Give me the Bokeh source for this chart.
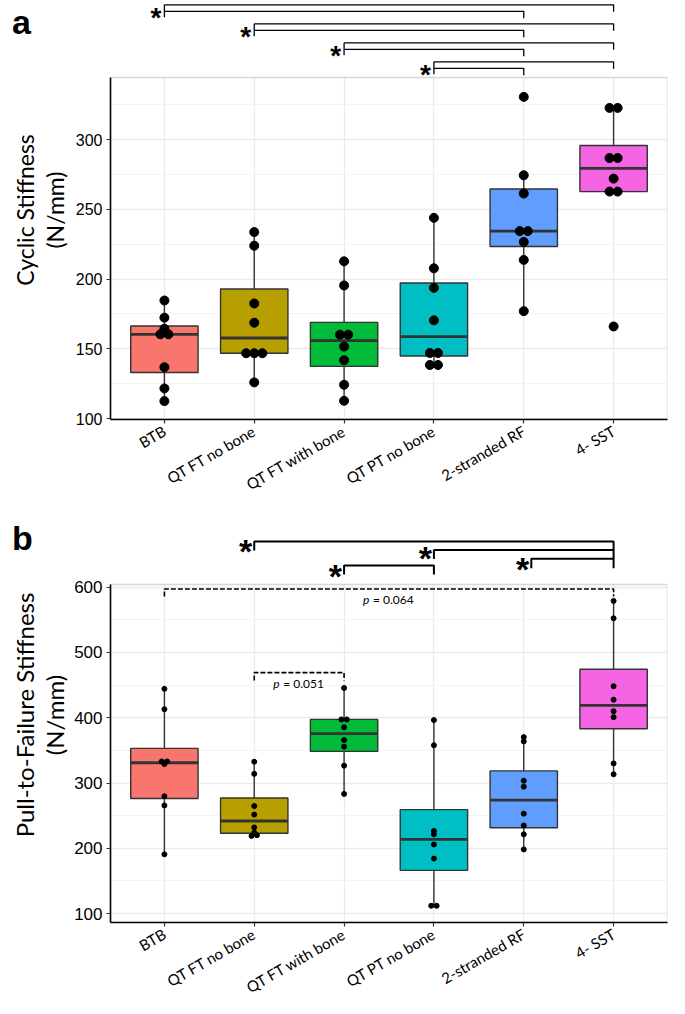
import math
import numpy as np
from bokeh.plotting import figure
from bokeh.layouts import column, row
from bokeh.models import Range1d, FixedTicker, ColumnDataSource, BoxAnnotation, Div
from bokeh.core.properties import value
from bokeh.embed import file_html
from bokeh.resources import INLINE

# ---------------- data ----------------
categories = ["BTB", "QT FT no bone", "QT FT with bone", "QT PT no bone", "2-stranded RF", "4- SST"]
box_colors = ["#F8766D", "#B79F00", "#00BA38", "#00BFC4", "#619CFF", "#F564E3"]

# panel a: cyclic stiffness (N/mm)
cyclic_btb = [184.6, 172.3, 164.4, 160.4, 160.4, 136.8, 121.6, 112.5]
cyclic_qtft_nobone = [233.7, 223.9, 182.5, 168.7, 146.8, 146.8, 146.8, 125.9]
cyclic_qtft_bone = [212.7, 195.4, 160.1, 160.1, 151.6, 141.8, 124.2, 112.7]
cyclic_qtpt_nobone = [243.9, 207.7, 193.7, 170.4, 147.0, 147.0, 138.4, 138.4]
cyclic_rf = [330.6, 274.4, 261.3, 234.4, 234.4, 226.6, 213.7, 177.0]
cyclic_sst = [322.7, 322.7, 286.8, 286.8, 272.0, 262.7, 262.7, 166.0]

# panel b: pull-to-failure stiffness (N/mm)
ptf_btb = [444.2, 413.0, 333.0, 333.0, 329.0, 279.8, 265.7, 190.8]
ptf_qtft_nobone = [332.6, 314.0, 264.7, 251.6, 232.0, 224.0, 220.0, 219.0]
ptf_qtft_bone = [445.6, 397.4, 397.4, 385.4, 365.8, 355.7, 326.6, 283.3]
ptf_qtpt_nobone = [396.4, 357.8, 226.5, 221.4, 205.9, 184.3, 112.0, 112.0]
ptf_rf = [370.3, 363.8, 303.5, 294.4, 253.1, 235.0, 221.4, 198.3]
ptf_sst = [578.9, 552.3, 448.3, 427.6, 410.0, 400.9, 330.0, 313.4]

cyclic_ticks = [100, 150, 200, 250, 300]
cyclic_minor = [125, 175, 225, 275, 325]
ptf_ticks = [100, 200, 300, 400, 500, 600]
ptf_minor = [150, 250, 350, 450, 550]

# significance comparisons
sig_a_from = ["BTB", "QT FT no bone", "QT FT with bone", "QT PT no bone"]
sig_a_to = ["4- SST", "2-stranded RF"]
sig_b_from = ["QT FT no bone", "QT PT no bone", "2-stranded RF", "QT FT with bone"]
sig_b_to = ["4- SST", "4- SST", "4- SST", "QT PT no bone"]
p_b_from = ["BTB", "QT FT no bone"]
p_b_to = ["4- SST", "QT FT with bone"]
p_b_value = ["0.064", "0.051"]

cyclic_values = [cyclic_btb, cyclic_qtft_nobone, cyclic_qtft_bone, cyclic_qtpt_nobone, cyclic_rf, cyclic_sst]
ptf_values = [ptf_btb, ptf_qtft_nobone, ptf_qtft_bone, ptf_qtpt_nobone, ptf_rf, ptf_sst]

# ---------------- layout ----------------
DIV_W = 2
L = 108
R = 2
FW = 557
X0, X1 = 0.4, 6.6
TEXT_FONT = "Lato"
NUM_FONT = "Liberation Sans"
STAR = "*"


def pos(cat):
    return categories.index(cat) + 1


def box_stats(vals):
    v = np.sort(np.asarray(vals, float))
    q1, med, q3 = np.percentile(v, [25, 50, 75])
    iqr = q3 - q1
    lo = v[v >= q1 - 1.5 * iqr].min()
    hi = v[v <= q3 + 1.5 * iqr].max()
    return q1, med, q3, lo, hi


def dodge(vals, tol, step):
    v = np.asarray(vals, float)
    order = np.argsort(v)
    offs = np.zeros(len(v))
    groups, cur = [], [order[0]]
    for a, b in zip(order[:-1], order[1:]):
        if v[b] - v[a] <= tol:
            cur.append(b)
        else:
            groups.append(cur)
            cur = [b]
    groups.append(cur)
    for g in groups:
        k = len(g)
        for j, idx in enumerate(g):
            offs[idx] = (j - (k - 1) / 2) * step
    return offs


def letter_div(txt, height, pad_top):
    return Div(text=txt, width=DIV_W, height=height, margin=0,
               styles={"font-family": "'Liberation Sans', Arial, sans-serif", "font-size": "34px",
                       "font-weight": "bold", "line-height": "34px", "color": "black",
                       "text-indent": "12px", "padding-top": f"{pad_top}px", "overflow": "visible",
                       "white-space": "nowrap"})


class Panel:
    """A box-plot panel whose frame also holds the significance brackets above the data area."""

    def __init__(self, values, ylo, yhi, top_px, data_px, bottom, ticks, minor, ylabel,
                 pt_size, tol, step, tick_fs, label_fs, label_standoff):
        self.ylo, self.yhi, self.top_px = ylo, yhi, top_px
        self.k = data_px / (yhi - ylo)
        ytop = yhi + top_px / self.k
        p = figure(frame_width=FW, frame_height=top_px + data_px,
                   x_range=Range1d(X0, X1), y_range=Range1d(ylo, ytop),
                   toolbar_location=None, output_backend="svg",
                   min_border_left=L, min_border_right=R, min_border_top=0, min_border_bottom=bottom,
                   background_fill_color="white", border_fill_color=None)
        p.outline_line_color = None
        self.p = p

        # panel border
        p.add_layout(BoxAnnotation(left=X0, right=X1, bottom=ylo, top=yhi, fill_color=None,
                                   line_color="#7F7F7F", line_width=1.3, level="underlay"))

        p.xaxis.ticker = FixedTicker(ticks=list(range(1, len(categories) + 1)))
        p.xaxis.major_label_overrides = {i + 1: c for i, c in enumerate(categories)}
        p.xaxis.major_label_orientation = math.pi / 6
        p.xaxis.major_label_text_font = TEXT_FONT
        p.xaxis.major_label_text_font_size = "15px"
        p.xaxis.major_label_text_color = "black"
        p.xaxis.major_label_standoff = 6

        p.yaxis.ticker = FixedTicker(ticks=ticks, minor_ticks=minor)
        p.yaxis.bounds = (ylo, yhi)
        p.yaxis.major_label_text_font = NUM_FONT
        p.yaxis.major_label_text_font_size = tick_fs
        p.yaxis.major_label_text_color = "black"
        p.yaxis.major_label_standoff = 4
        p.yaxis.axis_label = ylabel
        p.yaxis.axis_label_text_font = TEXT_FONT
        p.yaxis.axis_label_text_font_size = label_fs
        p.yaxis.axis_label_text_font_style = "normal"
        p.yaxis.axis_label_text_color = "black"
        p.yaxis.axis_label_text_line_height = 1.05
        p.yaxis.axis_label_standoff = label_standoff

        for ax in (p.xaxis, p.yaxis):
            ax.axis_line_color = "black"
            ax.axis_line_width = 1.6
            ax.major_tick_line_color = "#333333"
            ax.major_tick_line_width = 1.2
            ax.major_tick_out = 4
            ax.major_tick_in = 0
            ax.minor_tick_out = 0
            ax.minor_tick_in = 0

        p.ygrid.grid_line_color = "#EBEBEB"
        p.ygrid.grid_line_width = 1.3
        p.ygrid.minor_grid_line_color = "#F3F3F3"
        p.ygrid.minor_grid_line_width = 1.0
        xs = np.arange(1, len(values) + 1, dtype=float)
        xg = p.xgrid[0]
        if "cross_bounds" in xg.properties():
            xg.cross_bounds = (ylo, yhi)
            xg.grid_line_color = "#EBEBEB"
            xg.grid_line_width = 1.3
        else:
            xg.visible = False
            p.segment(x0=xs, y0=ylo, x1=xs, y1=yhi, line_color="#EBEBEB", line_width=1.3,
                      level="underlay")

        stats = np.array([box_stats(v) for v in values])
        src = ColumnDataSource(dict(x=xs, xl=xs - 0.375, xr=xs + 0.375,
                                    q1=stats[:, 0], med=stats[:, 1], q3=stats[:, 2],
                                    lo=stats[:, 3], hi=stats[:, 4], color=box_colors))
        p.segment(x0="x", y0="q3", x1="x", y1="hi", source=src, line_color="#333333", line_width=1.4)
        p.segment(x0="x", y0="lo", x1="x", y1="q1", source=src, line_color="#333333", line_width=1.4)
        p.vbar(x="x", width=0.75, bottom="q1", top="q3", source=src, fill_color="color",
               line_color="#333333", line_width=1.4)
        p.segment(x0="xl", y0="med", x1="xr", y1="med", source=src, line_color="#333333",
                  line_width=2.8)

        px, py = [], []
        for i, v in enumerate(values):
            off = dodge(v, tol, step)
            px.extend(list(xs[i] + off))
            py.extend(list(v))
        p.scatter(px, py, size=pt_size, fill_color="black", line_color="black")

    def y(self, px):
        """pixel offset from the top of the frame -> data value"""
        return self.yhi + (self.top_px - px) / self.k

    def stars(self, xs, centers_px, fs, xoff):
        ys = [self.y(c + 0.14 * fs) for c in centers_px]
        self.p.text(x=xs, y=ys, text=[STAR] * len(xs), text_font=value(NUM_FONT),
                    text_font_size=f"{fs}px", text_font_style="bold", text_color="black",
                    text_align="right", text_baseline="alphabetic", x_offset=xoff)


# ---------------- panel a ----------------
A = Panel(cyclic_values, 99.3, 344.5, 77, 342, 88, cyclic_ticks, cyclic_minor,
          "Cyclic Stiffness\n(N/mm)", 9, 1.0, 0.09, "16px", "23px", 4)
lev0, lev_step, gap = 4.3, 19.0, 6.5
xs_l, ys_l, st_x, st_c = [], [], [], []
for i, c in enumerate(sig_a_from):
    x0 = pos(c)
    lev = lev0 + i * lev_step
    for j, t in enumerate(sig_a_to):
        yy = lev + j * gap
        xs_l.append([x0, pos(t), pos(t)])
        ys_l.append([A.y(yy), A.y(yy), A.y(yy + 7)])
    xs_l.append([x0, x0])
    ys_l.append([A.y(lev), A.y(lev + gap + 6)])
    st_x.append(x0)
    st_c.append(lev + 8.4)
A.p.multi_line(xs_l, ys_l, line_color="black", line_width=1.3)
A.stars(st_x, st_c, 28, -3)

# ---------------- panel b ----------------
B = Panel(ptf_values, 86.4, 604.0, 77, 338, 76, ptf_ticks, ptf_minor,
          "Pull-to-Failure Stiffness\n(N/mm)", 5, 2.5, 0.06, "17px", "24px", 2)
levels_b = [34.0, 42.5, 51.3, 58.0]
tips_b = [9.0, 9.0, 9.5, 9.0]
nudge_b = [0.0, 0.0, 0.084, 0.0]
star_b = [39.0, 46.0, 57.0, 64.0]
xs_l, ys_l, st_x = [], [], []
for i, (f_, t_) in enumerate(zip(sig_b_from, sig_b_to)):
    x0 = pos(f_) + nudge_b[i]
    x1 = pos(t_)
    lev = levels_b[i]
    xs_l.append([x0, x0, x1, x1])
    ys_l.append([B.y(lev + tips_b[i]), B.y(lev), B.y(lev), B.y(lev + tips_b[i])])
    st_x.append(x0)
B.p.multi_line(xs_l, ys_l, line_color="black", line_width=2.0)
B.stars(st_x, star_b, 34, -2)

p_levels = [597.0, 469.0]
p_tip = [11.5, 12.0]
p_text_y = [581.5, 453.0]
for i in range(len(p_b_from)):
    x0, x1 = pos(p_b_from[i]), pos(p_b_to[i])
    lev = p_levels[i]
    B.p.line([x0, x0, x1, x1], [lev - p_tip[i], lev, lev, lev - p_tip[i]], line_color="black",
             line_width=1.6, line_dash="5 2")
    xc = (x0 + x1) / 2
    B.p.text(x=[xc], y=[p_text_y[i]], text=["p"], text_font=value(TEXT_FONT), text_font_size="12px",
             text_font_style="italic", text_color="black", text_align="left", text_baseline="middle",
             x_offset=-26)
    B.p.text(x=[xc], y=[p_text_y[i]], text=["= " + p_b_value[i]], text_font=value(TEXT_FONT),
             text_font_size="12px", text_color="black", text_align="left", text_baseline="middle",
             x_offset=-16)

div_a = letter_div("a", 45, 5)
div_b = letter_div("b", 57, 14)
layout = column(row(div_a, A.p, spacing=0), row(div_b, B.p, spacing=0), spacing=0)
open("out.html", "w").write(file_html(layout, INLINE))
